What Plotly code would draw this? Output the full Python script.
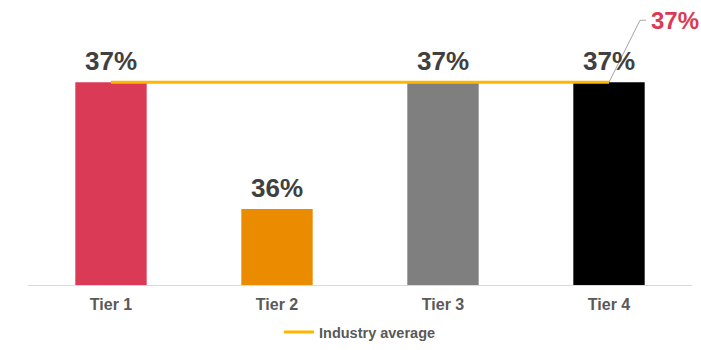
import plotly.graph_objects as go

# Share by tier, with the industry-wide average
tiers = ["Tier 1", "Tier 2", "Tier 3", "Tier 4"]
share = [0.37, 0.36, 0.37, 0.37]
industry_avg = [0.37, 0.37, 0.37, 0.37]
avg_label = "37%"
bar_colors = ["#DB3A56", "#EB8C00", "#7F7F7F", "#000000"]

FONT = "Arial, Liberation Sans, sans-serif"

fig = go.Figure()

fig.add_trace(go.Bar(
    x=tiers,
    y=share,
    marker=dict(color=bar_colors, line=dict(width=0)),
    width=0.43,
    showlegend=False,
    hoverinfo="skip",
))

fig.add_trace(go.Scatter(
    x=tiers,
    y=industry_avg,
    mode="lines",
    line=dict(color="#FFB600", width=3),
    name="Industry average",
    cliponaxis=False,
))

# Value labels above each bar
for tier, val in zip(tiers, share):
    fig.add_annotation(
        x=tier, y=val, xref="x", yref="y",
        text=f"{val:.0%}",
        showarrow=False,
        xanchor="center", yanchor="bottom",
        yshift=4,
        font=dict(family=FONT, size=26, color="#404040", weight="bold"),
    )

# Leader line from the end of the average line to its callout
fig.add_shape(
    type="path",
    xref="x", yref="y",
    xsizemode="pixel", ysizemode="pixel",
    xanchor=tiers[-1], yanchor=industry_avg[-1],
    path="M0,0 L31,62 L37,62",
    line=dict(color="#A6A6A6", width=1),
)

fig.add_annotation(
    x=tiers[-1], y=industry_avg[-1],
    xref="x", yref="y",
    text=avg_label,
    showarrow=False,
    xanchor="left", yanchor="middle",
    xshift=40, yshift=62,
    font=dict(family=FONT, size=24, color="#DB3A56", weight="bold"),
)

fig.update_layout(
    width=701, height=350,
    margin=dict(l=28, r=9, t=10, b=65, autoexpand=False),
    paper_bgcolor="white",
    plot_bgcolor="white",
    bargap=0.57,
    legend=dict(
        orientation="h",
        x=0.5, xanchor="center",
        y=-0.171, yanchor="middle",
        font=dict(family=FONT, size=14.5, color="#595959", weight="bold"),
        itemwidth=30,
    ),
)

fig.update_xaxes(
    range=[-0.5, 3.5],
    showgrid=False,
    showline=True, linecolor="#D9D9D9", linewidth=1,
    ticks="",
    ticklabelstandoff=5,
    tickfont=dict(family=FONT, size=16, color="#595959", weight="bold"),
)

fig.update_yaxes(
    range=[0.354, 0.3757],
    visible=False,
    showgrid=False,
    zeroline=False,
)

fig.write_html("out.html")
